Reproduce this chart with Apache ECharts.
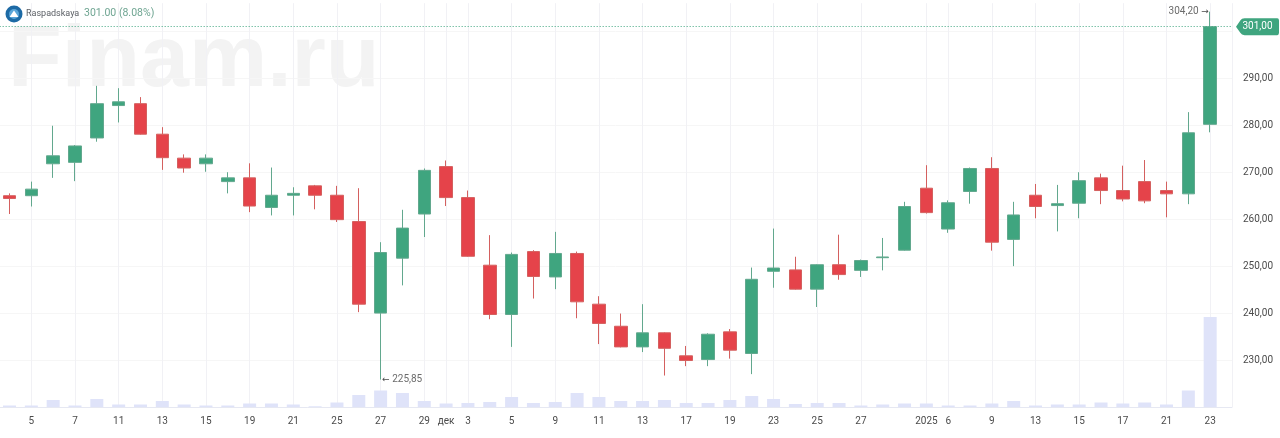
<!DOCTYPE html>
<html>
<head>
    <title>Raspadskaya</title>
    <meta http-equiv=Content-Type content="text/html; charset=utf-8">
    <script src="https://cdn.jsdelivr.net/npm/echarts@6/dist/echarts.min.js"></script>
    <style>
        html, body { margin: 0; padding: 0; background: #fff; }
        #main { width: 1280px; height: 438px; }
    </style>
</head>
<body>
<div id="main"></div>
<script type="text/javascript">
    // подписи оси X, пустые строки - дни без подписи
    var dayLabels = ['', '5', '', '7', '', '11', '', '13', '', '15', '', '19', '', '21', '', '25', '', '27', '', '29',
        'дек', '3', '', '5', '', '9', '', '11', '', '13', '', '17', '', '19', '', '23', '', '25', '', '27',
        '', '', '2025', '6', '', '9', '', '13', '', '15', '', '17', '', '21', '', '23'];

    var opens = [265.0, 265.0, 271.8, 272.1, 277.3, 284.2, 284.6, 278.1, 273.0, 271.8, 268.0, 268.8, 262.5, 265.1, 267.1, 265.1, 259.5, 240.0, 251.7, 261.1,
        271.2, 264.6, 250.2, 239.7, 253.1, 247.7, 252.7, 241.9, 237.2, 232.8, 235.8, 230.9, 230.1, 236.0, 231.4, 248.9, 249.2, 245.1, 250.3, 249.1,
        251.8, 253.4, 266.6, 257.9, 265.9, 270.8, 255.7, 265.1, 262.9, 263.4, 268.8, 266.1, 268.0, 266.1, 265.4, 280.2];
    var closes = [264.4, 266.4, 273.5, 275.6, 284.6, 285.0, 278.1, 273.1, 270.9, 273.0, 268.8, 262.8, 265.1, 265.5, 265.1, 259.9, 241.9, 252.9, 258.1, 270.4,
        264.6, 252.1, 239.7, 252.5, 247.8, 252.7, 242.4, 237.8, 232.8, 235.8, 232.5, 229.9, 235.5, 232.1, 247.2, 249.6, 245.1, 250.3, 248.2, 251.2,
        251.95, 262.7, 261.4, 263.5, 270.8, 255.1, 260.9, 262.7, 263.3, 268.2, 266.1, 264.3, 263.9, 265.4, 278.4, 301.0];
    var lows = [261.1, 262.7, 268.8, 268.1, 276.5, 280.6, 278.0, 270.5, 269.9, 270.1, 265.5, 261.5, 260.8, 260.8, 262.1, 259.4, 240.2, 225.85, 245.9, 256.2,
        262.8, 252.0, 238.7, 232.8, 243.1, 245.1, 238.9, 233.4, 232.7, 231.7, 226.7, 228.7, 228.7, 230.3, 227.0, 245.4, 245.0, 241.3, 247.1, 247.7,
        249.1, 253.3, 261.2, 257.1, 263.3, 253.3, 250.0, 260.2, 257.4, 260.2, 263.2, 263.8, 263.4, 260.4, 263.2, 278.5];
    var highs = [265.5, 268.0, 279.9, 275.8, 288.4, 287.9, 286.0, 279.6, 273.8, 273.8, 270.0, 271.9, 271.0, 266.8, 267.3, 267.1, 266.6, 255.1, 262.0, 270.8,
        272.5, 266.1, 256.6, 252.9, 253.4, 257.3, 253.1, 243.6, 239.9, 241.9, 235.9, 233.0, 235.7, 236.6, 249.7, 258.0, 252.0, 250.4, 256.7, 251.4,
        256.0, 263.7, 271.5, 264.0, 271.0, 273.2, 263.7, 267.5, 267.3, 270.0, 269.7, 271.4, 272.6, 268.0, 282.8, 304.2];
    var volumes = [1.5, 1.5, 7, 1.5, 8, 2.5, 2.5, 6, 2.5, 1.5, 1.5, 3.5, 3.5, 2.5, 0.7, 4.5, 12, 16.5, 14, 6,
        3.5, 4, 5, 10, 4, 5, 14, 10, 6, 6, 7, 4, 4, 7, 11, 8, 3, 4, 4, 1.5,
        2.5, 3.5, 3.5, 1.5, 1.5, 3.5, 6, 1.5, 2.5, 2.5, 4.5, 3.5, 4.5, 2.5, 16.5, 90];

    var lastPrice = 301;
    var maxPrice = 304.2;
    var minPrice = 225.85;

    function toComma(v) {
        return v.toFixed(2).replace('.', ',');
    }

    // по краям оси пустые категории, чтобы сетка доходила до края как в оригинале
    var categories = [''].concat(dayLabels, ['']);
    var candleData = ['-'];
    var volumeData = ['-'];
    for (var i = 0; i < opens.length; i++) {
        candleData.push([opens[i], closes[i], lows[i], highs[i]]);
        volumeData.push(volumes[i]);
    }
    candleData.push('-');
    volumeData.push('-');

    var lastIndex = categories.length - 1;
    var fontName = 'Roboto';
    // стрелки в Roboto нет, берём из DejaVu
    var arrowStyle = { fontFamily: 'DejaVu Sans', fontSize: 9, color: '#4a4a4a' };

    var chart = echarts.init(document.getElementById('main'), null, { renderer: 'canvas' });
    chart.setOption({
        animation: false,
        backgroundColor: '#ffffff',
        textStyle: { fontFamily: fontName },
        grid: { left: -12.33, right: 48, top: 3.2, bottom: 31, outerBoundsMode: 'none' },
        xAxis: {
            type: 'category',
            data: categories,
            boundaryGap: false,
            axisLine: { lineStyle: { color: '#e6e8f2' } },
            axisTick: { show: false },
            axisLabel: {
                interval: 0,
                color: '#4a4a4a',
                fontSize: 10,
                margin: 9
            },
            splitLine: {
                show: true,
                interval: function (index, value) {
                    return value !== '' || index === lastIndex;
                },
                lineStyle: { color: '#f1f1f5', width: 1 }
            }
        },
        yAxis: [{
            type: 'value',
            position: 'right',
            min: 220,
            max: 306,
            interval: 10,
            axisLine: { show: false },
            axisTick: { show: false },
            axisLabel: {
                margin: 11,
                color: '#4a4a4a',
                fontSize: 10,
                showMinLabel: false,
                showMaxLabel: false,
                formatter: function (v) {
                    return v === 300 ? '' : toComma(v);
                }
            },
            splitLine: { show: true, showMaxLine: false, lineStyle: { color: '#f6f6f6', width: 1 } }
        }, {
            // объём рисуем на той же сетке, ось не показываем
            type: 'value',
            show: false,
            min: 0,
            max: 404,
            splitLine: { show: false }
        }],
        graphic: [
            {
                type: 'text', silent: true, z: -1, left: 8, top: 18,
                style: { text: 'Finam.ru', fill: '#f3f3f3', font: 'bold 88px "Liberation Sans"' }
            },
            {
                type: 'circle', silent: true, z: 10,
                shape: { cx: 14, cy: 14, r: 8.5 },
                style: { fill: '#1d6aa5' }
            },
            {
                type: 'circle', silent: true, z: 10,
                shape: { cx: 14, cy: 14, r: 5 },
                style: { fill: '#5aa5d8' }
            },
            {
                type: 'polygon', silent: true, z: 10,
                shape: { points: [[14, 10.5], [18.5, 17], [9.5, 17]] },
                style: { fill: '#ffffff' }
            },
            {
                type: 'text', silent: true, z: 10, left: 26, top: 9,
                style: { text: 'Raspadskaya', fill: '#5c6066', font: '9px Roboto' }
            },
            {
                type: 'text', silent: true, z: 10, left: 84, top: 8,
                style: { text: '301.00 (8.08%)', fill: '#6fa592', font: '10.5px Roboto' }
            }
        ],
        series: [{
            name: 'volume',
            type: 'bar',
            yAxisIndex: 1,
            barWidth: 13,
            z: 1,
            itemStyle: { color: '#dfe3f9' },
            data: volumeData
        }, {
            name: 'Raspadskaya',
            type: 'candlestick',
            yAxisIndex: 0,
            barWidth: 13,
            z: 2,
            itemStyle: {
                color: '#3fa57f',
                color0: '#e5434a',
                borderColor: '#62a88e',
                borderColor0: '#d4605f',
                borderWidth: 1
            },
            data: candleData,
            markLine: {
                silent: true,
                symbol: 'none',
                label: { show: false },
                lineStyle: { type: [1, 2], color: '#3fa57f', width: 1, opacity: 1 },
                data: [{ yAxis: lastPrice }]
            },
            markPoint: {
                silent: true,
                data: [{
                    coord: [18, minPrice],
                    symbol: 'circle',
                    symbolSize: 1,
                    itemStyle: { color: 'transparent' },
                    label: {
                        position: 'right',
                        distance: 1,
                        color: '#6b6b6b',
                        fontSize: 10,
                        formatter: '{a|←} ' + toComma(minPrice),
                        rich: { a: arrowStyle }
                    }
                }, {
                    coord: [56, maxPrice],
                    symbol: 'circle',
                    symbolSize: 1,
                    itemStyle: { color: 'transparent' },
                    label: {
                        position: 'left',
                        distance: 1,
                        color: '#6b6b6b',
                        fontSize: 10,
                        formatter: toComma(maxPrice) + ' {a|→}',
                        rich: { a: arrowStyle }
                    }
                }, {
                    coord: [lastIndex, lastPrice],
                    symbol: 'path://M0 50 L10 14 Q13 0 20 0 L96 0 Q100 0 100 14 L100 86 Q100 100 96 100 L20 100 Q13 100 10 86 Z',
                    symbolSize: [43, 17],
                    symbolOffset: [25.5, 0],
                    itemStyle: { color: '#3fa57f' },
                    label: {
                        position: 'inside',
                        color: '#ffffff',
                        fontSize: 10,
                        formatter: toComma(lastPrice)
                    }
                }]
            }
        }]
    });
</script>
</body>
</html>
